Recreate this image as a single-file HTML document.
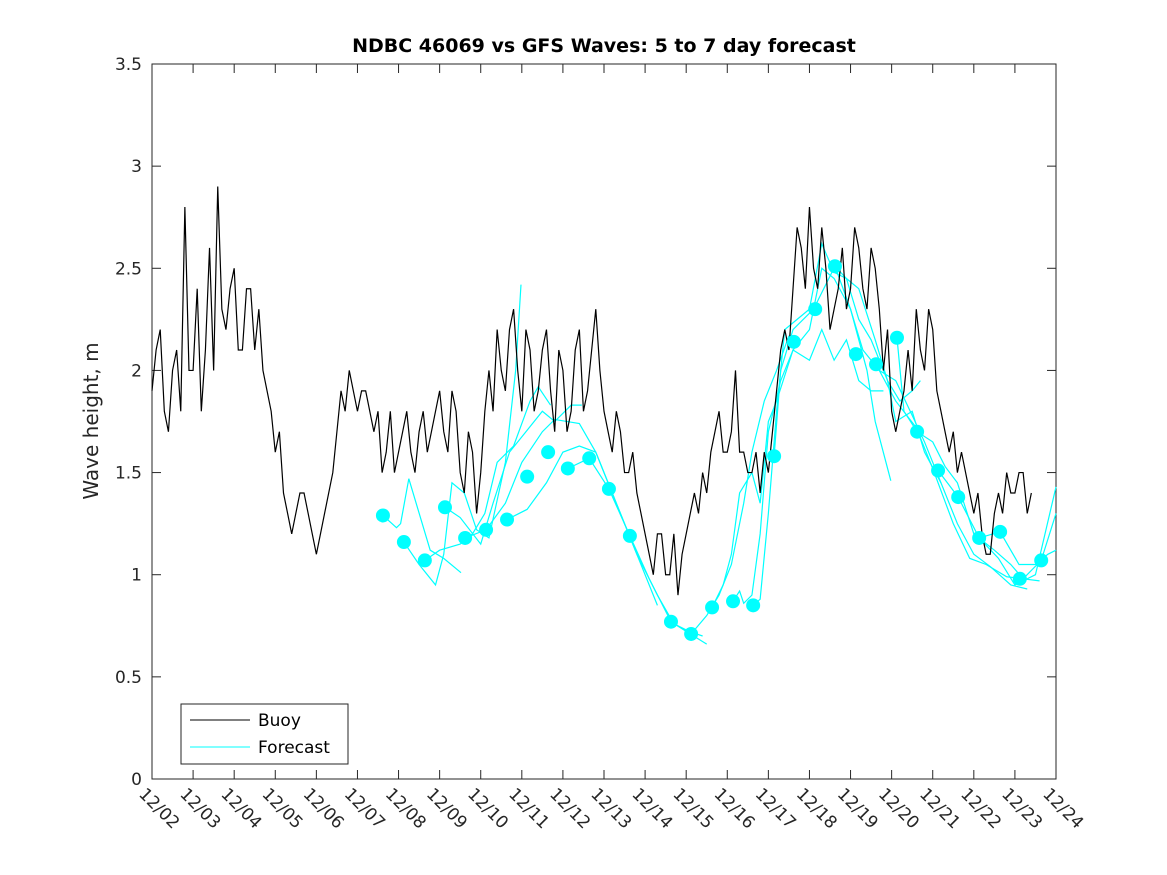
<!DOCTYPE html>
<html><head><meta charset="utf-8"><style>
body{margin:0;background:#fff;}
svg{display:block;font-family:"DejaVu Sans","Liberation Sans",sans-serif;}
</style></head><body>
<svg id="chart" width="1167" height="875">
<rect x="0" y="0" width="1167" height="875" fill="#fff"/>
<text x="604" y="52" text-anchor="middle" font-size="19" font-weight="bold" fill="#000">NDBC 46069 vs GFS Waves: 5 to 7 day forecast</text>
<text transform="translate(98,421) rotate(-90)" text-anchor="middle" font-size="20" fill="#262626">Wave height, m</text>
<g id="axes"></g>
<g id="fc"></g>
<g id="buoy"></g>
<g id="dots"></g>
<g>
<rect x="181" y="704" width="167" height="60" fill="#fff" stroke="#262626" stroke-width="1"/>
<line x1="190" y1="720" x2="250" y2="720" stroke="#000" stroke-width="1"/>
<text x="258" y="726" font-size="17" fill="#000">Buoy</text>
<line x1="190" y1="747" x2="250" y2="747" stroke="#00ffff" stroke-width="1"/>
<text x="258" y="753" font-size="17" fill="#000">Forecast</text>
</g>
</svg>
<script>
const xTickLabels=["12/02","12/03","12/04","12/05","12/06","12/07","12/08","12/09","12/10","12/11","12/12","12/13","12/14","12/15","12/16","12/17","12/18","12/19","12/20","12/21","12/22","12/23","12/24"];
const yTicks=[0,0.5,1,1.5,2,2.5,3,3.5];
const buoyStart=0, buoyStep=0.1;
const buoyValues=[
1.9,2.1,2.2,1.8,1.7,2.0,2.1,1.8,2.8,2.0,2.0,2.4,1.8,2.1,2.6,2.0,2.9,2.3,2.2,2.4,
2.5,2.1,2.1,2.4,2.4,2.1,2.3,2.0,1.9,1.8,1.6,1.7,1.4,1.3,1.2,1.3,1.4,1.4,1.3,1.2,
1.1,1.2,1.3,1.4,1.5,1.7,1.9,1.8,2.0,1.9,1.8,1.9,1.9,1.8,1.7,1.8,1.5,1.6,1.8,1.5,
1.6,1.7,1.8,1.6,1.5,1.7,1.8,1.6,1.7,1.8,1.9,1.7,1.6,1.9,1.8,1.5,1.4,1.7,1.6,1.3,
1.5,1.8,2.0,1.8,2.2,2.0,1.9,2.2,2.3,2.0,1.8,2.2,2.1,1.8,1.9,2.1,2.2,1.9,1.7,2.1,
2.0,1.7,1.8,2.1,2.2,1.8,1.9,2.1,2.3,2.0,1.8,1.7,1.6,1.8,1.7,1.5,1.5,1.6,1.4,1.3,
1.2,1.1,1.0,1.2,1.2,1.0,1.0,1.2,0.9,1.1,1.2,1.3,1.4,1.3,1.5,1.4,1.6,1.7,1.8,1.6,
1.6,1.7,2.0,1.6,1.6,1.5,1.5,1.6,1.4,1.6,1.5,1.7,1.9,2.1,2.2,2.1,2.4,2.7,2.6,2.4,
2.8,2.5,2.4,2.7,2.5,2.2,2.3,2.4,2.6,2.3,2.4,2.7,2.6,2.4,2.3,2.6,2.5,2.3,2.0,2.2,
1.8,1.7,1.8,1.9,2.1,1.9,2.3,2.1,2.0,2.3,2.2,1.9,1.8,1.7,1.6,1.7,1.5,1.6,1.5,1.4,
1.3,1.4,1.2,1.1,1.1,1.3,1.4,1.3,1.5,1.4,1.4,1.5,1.5,1.3,1.4];
const dotDays=[5.62,6.13,6.64,7.13,7.62,8.13,8.64,9.13,9.64,10.12,10.64,11.12,11.63,12.63,13.12,13.63,14.14,14.63,15.14,15.62,16.14,16.62,17.13,17.62,18.13,18.62,19.13,19.62,20.13,20.64,21.12,21.64];
const dotValues=[1.29,1.16,1.07,1.33,1.18,1.22,1.27,1.48,1.60,1.52,1.57,1.42,1.19,0.77,0.71,0.84,0.87,0.85,1.58,2.14,2.30,2.51,2.08,2.03,2.16,1.70,1.51,1.38,1.18,1.21,0.98,1.07];
const fcLines=[
[[5.62,1.29],[5.95,1.23],[6.05,1.25],[6.25,1.47],[6.77,1.12],[7.1,1.08],[7.52,1.01]],
[[6.13,1.16],[6.5,1.05],[6.9,0.95],[7.1,1.1],[7.3,1.45],[7.6,1.40],[7.9,1.22],[8.2,1.18],[8.6,1.55],[8.85,2.0],[8.98,2.42]],
[[6.64,1.07],[7.0,1.12],[7.5,1.15],[7.8,1.2],[8.1,1.3],[8.4,1.55],[8.8,1.63],[9.2,1.85],[9.4,1.92],[9.7,1.83]],
[[7.13,1.33],[7.5,1.28],[8.0,1.15],[8.3,1.35],[8.7,1.6],[9.1,1.7],[9.5,1.8],[9.8,1.75],[10.2,1.83],[10.46,1.83]],
[[7.62,1.18],[8.13,1.22],[8.6,1.35],[9.0,1.55],[9.5,1.7],[9.8,1.76],[10.4,1.74],[10.8,1.6],[11.2,1.4],[11.6,1.2],[12.0,1.0],[12.3,0.85]],
[[8.64,1.27],[9.13,1.32],[9.6,1.45],[10.0,1.6],[10.4,1.63],[10.8,1.6],[11.2,1.4],[11.8,1.1],[12.3,0.9],[12.7,0.76],[13.1,0.72],[13.4,0.7]],
[[10.12,1.52],[10.64,1.57],[11.12,1.42],[11.63,1.19],[12.1,0.98],[12.63,0.77],[13.1,0.71],[13.5,0.66]],
[[12.63,0.77],[13.12,0.71],[13.5,0.8],[13.8,0.9],[14.1,1.05],[14.4,1.35],[14.6,1.6],[14.9,1.85],[15.2,2.0],[15.5,2.17]],
[[13.63,0.84],[13.9,0.95],[14.1,1.1],[14.3,1.4],[14.6,1.5],[14.8,1.35],[15.0,1.75],[15.2,1.85],[15.6,2.1],[16.0,2.2],[16.3,2.5],[16.6,2.45],[17.0,2.3],[17.4,2.0],[17.6,1.75],[17.98,1.46]],
[[14.14,0.87],[14.3,0.92],[14.4,0.86],[14.6,0.9],[14.8,1.2],[15.0,1.7],[15.3,1.95],[15.6,2.1],[16.0,2.05],[16.3,2.2],[16.6,2.05],[16.9,2.15],[17.2,1.95],[17.5,1.9],[17.8,1.9]],
[[14.63,0.85],[14.8,0.88],[15.0,1.3],[15.2,1.8],[15.4,2.2],[15.7,2.25],[16.0,2.3],[16.3,2.62],[16.6,2.48],[16.9,2.45],[17.2,2.25],[17.5,2.15],[17.9,1.95],[18.2,1.85],[18.5,1.9],[18.7,1.95]],
[[15.14,1.58],[15.3,2.0],[15.6,2.2],[16.1,2.3],[16.62,2.51],[16.9,2.45],[17.2,2.4],[17.6,2.15],[17.9,1.95],[18.1,1.75],[18.5,1.8],[18.8,1.6],[19.2,1.45]],
[[16.62,2.51],[17.0,2.3],[17.3,2.1],[17.7,2.0],[18.1,1.95],[18.5,1.78],[18.8,1.65],[19.2,1.45],[19.6,1.25],[20.0,1.1],[20.4,1.04],[20.9,0.95],[21.3,0.93]],
[[17.62,2.03],[18.1,1.85],[18.6,1.72],[19.0,1.52],[19.5,1.25],[19.9,1.08],[20.3,1.05],[20.8,0.99],[21.2,0.98],[21.6,0.97]],
[[18.13,2.16],[18.3,1.8],[18.62,1.7],[19.0,1.65],[19.3,1.53],[19.6,1.45],[20.0,1.2],[20.5,1.12],[20.9,1.05],[21.2,0.98],[21.64,1.07],[22.0,1.3]],
[[19.13,1.51],[19.62,1.38],[20.13,1.18],[20.64,1.21],[21.1,1.05],[21.5,1.05],[21.8,1.1],[22.0,1.12]],
[[20.13,1.18],[20.6,1.08],[21.0,0.95],[21.5,1.0],[22.0,1.43]]
];
const L=152,R=1056,T=64,B=779,XMAX=22,YMAX=3.5;
const NS="http://www.w3.org/2000/svg";
function sx(d){return L+(R-L)*d/XMAX;}
function sy(v){return B-(B-T)*v/YMAX;}
function mk(tag,attrs,parent){const e=document.createElementNS(NS,tag);for(const k in attrs)e.setAttribute(k,attrs[k]);parent.appendChild(e);return e;}
const axes=document.getElementById('axes');
let r=mk('rect',{x:L,y:T,width:R-L,height:B-T,fill:'none',stroke:'#262626','stroke-width':1},axes);


yTicks.forEach(v=>{
  const y=sy(v);
  let t=mk('line',{x1:L,y1:y,x2:L+9,y2:y,stroke:'#262626'},axes);
  
  
  mk('line',{x1:R,y1:y,x2:R-9,y2:y,stroke:'#262626'},axes);
  let tx=mk('text',{x:L-10,y:y+6,'text-anchor':'end','font-size':17,fill:'#262626'},axes);
  tx.textContent=String(v);
  
  
});
xTickLabels.forEach((lab,i)=>{
  const x=sx(i);
  let t=mk('line',{x1:x,y1:B,x2:x,y2:B-9,stroke:'#262626'},axes);
  
  
  mk('line',{x1:x,y1:T,x2:x,y2:T+9,stroke:'#262626'},axes);
  let tx=mk('text',{transform:`translate(${x-14},${B+16}) rotate(45)`,'font-size':17,fill:'#262626'},axes);
  tx.textContent=lab;
  
  
});
const fc=document.getElementById('fc');
fcLines.forEach(ln=>{
  let p=mk('polyline',{points:ln.map(q=>sx(q[0])+','+sy(q[1])).join(' '),fill:'none',stroke:'#00ffff','stroke-width':1.2},fc);
  
  
});
const pts=buoyValues.map((v,i)=>sx(buoyStart+i*buoyStep)+','+sy(v));
let bp=mk('polyline',{points:pts.join(' '),fill:'none',stroke:'#000','stroke-width':1.2},document.getElementById('buoy'));


const dots=document.getElementById('dots');
dotDays.forEach((d,i)=>{
  let c=mk('circle',{cx:sx(d),cy:sy(dotValues[i]),r:7,fill:'#00ffff'},dots);
  
  
});
</script>
</body></html>
